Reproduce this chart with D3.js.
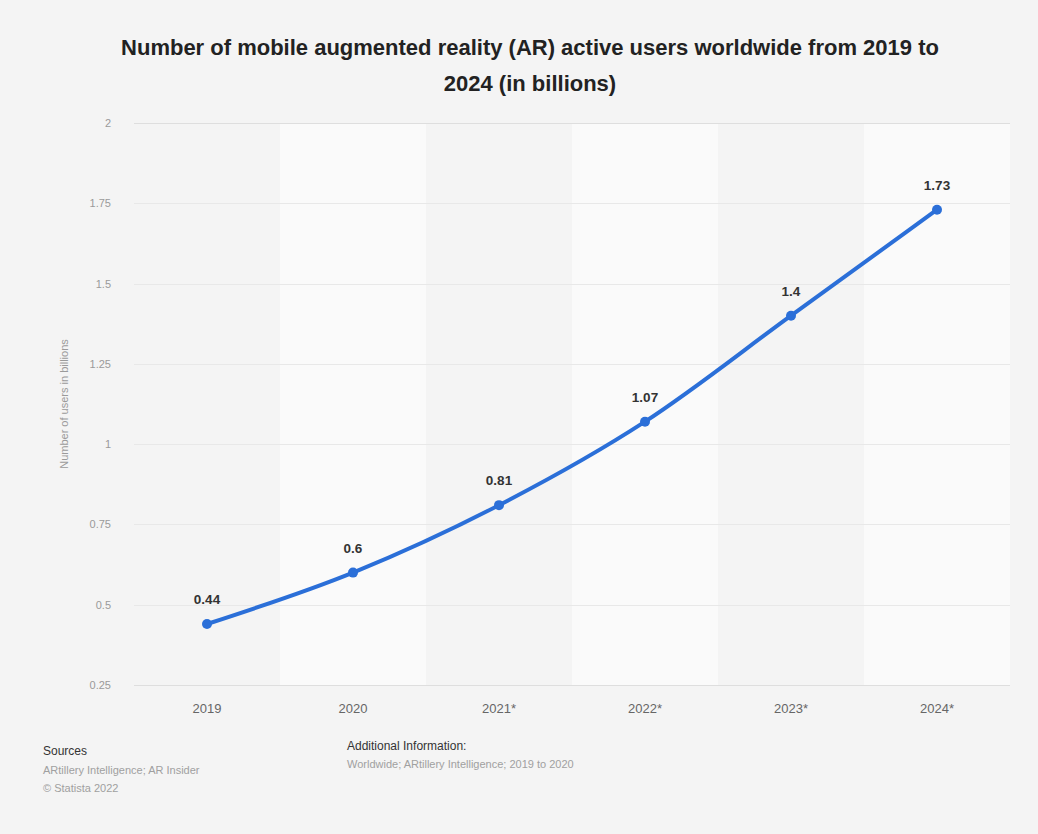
<!DOCTYPE html>
<html>
<head>
<meta charset="utf-8">
<script src="https://cdn.jsdelivr.net/npm/d3@7"></script>
<style>
  html, body { margin: 0; padding: 0; background: #f4f4f4; }
  svg { display: block; font-family: "Liberation Sans", Arial, sans-serif; }
</style>
</head>
<body>
<svg id="chart"></svg>
<script>
// chart data
const years = ['2019', '2020', '2021*', '2022*', '2023*', '2024*'];
const users = [0.44, 0.6, 0.81, 1.07, 1.4, 1.73];
const yTicks = [0.25, 0.5, 0.75, 1, 1.25, 1.5, 1.75, 2];
const yTickLabels = ['0.25', '0.5', '0.75', '1', '1.25', '1.5', '1.75', '2'];

const W = 1038, H = 834;
const svg = d3.select('#chart').attr('width', W).attr('height', H);

svg.append('rect').attr('width', W).attr('height', H).attr('fill', '#f4f4f4');

// plot box
const plotL = 134, plotR = 1010, plotT = 123, plotB = 685;

const x = d3.scaleBand().domain(years).range([plotL, plotR]);
const y = d3.scaleLinear().domain([0.25, 2]).range([plotB, plotT]);

// alternating column bands
svg.append('g').selectAll('rect')
    .data(years.filter((d, i) => i % 2 === 1))
    .join('rect')
    .attr('x', d => x(d))
    .attr('y', plotT)
    .attr('width', x.bandwidth())
    .attr('height', plotB - plotT)
    .attr('fill', '#fafafa');

// grid lines
svg.append('g').selectAll('line')
    .data(yTicks)
    .join('line')
    .attr('x1', plotL).attr('x2', plotR)
    .attr('y1', d => Math.round(y(d)) + 0.5)
    .attr('y2', d => Math.round(y(d)) + 0.5)
    .attr('stroke', (d, i) => (i === 0 || i === yTicks.length - 1) ? '#dedede' : '#e8e8e8')
    .attr('stroke-width', 1);

// y axis labels
const yAxis = d3.axisLeft(y).tickValues(yTicks)
    .tickFormat((d, i) => yTickLabels[i]).tickSize(0).tickPadding(0);
const gy = svg.append('g').attr('transform', 'translate(111,0)').call(yAxis);
gy.select('.domain').remove();
gy.selectAll('text').attr('fill', '#9a9a9a').style('font-size', '11px')
    .style('font-family', '"Liberation Sans", Arial, sans-serif');

// x axis labels
const xAxis = d3.axisBottom(x).tickSize(0).tickPadding(0);
const gx = svg.append('g').attr('transform', 'translate(0,704)').call(xAxis);
gx.select('.domain').remove();
gx.selectAll('text').attr('fill', '#666').style('font-size', '13px')
    .style('font-family', '"Liberation Sans", Arial, sans-serif');

// y axis title
svg.append('text')
    .attr('transform', 'translate(68,404) rotate(-90)')
    .attr('text-anchor', 'middle')
    .attr('fill', '#9a9a9a')
    .style('font-size', '11px')
    .text('Number of users in billions');

// the line
const line = d3.line()
    .x((d, i) => x(years[i]) + x.bandwidth() / 2)
    .y(d => y(d))
    .curve(d3.curveMonotoneX);

svg.append('path')
    .datum(users)
    .attr('d', line)
    .attr('fill', 'none')
    .attr('stroke', '#2b6fd8')
    .attr('stroke-width', 4)
    .attr('stroke-linejoin', 'round');

svg.append('g').selectAll('circle')
    .data(users)
    .join('circle')
    .attr('cx', (d, i) => x(years[i]) + x.bandwidth() / 2)
    .attr('cy', d => y(d))
    .attr('r', 5)
    .attr('fill', '#2b6fd8');

// value labels
svg.append('g').selectAll('text')
    .data(users)
    .join('text')
    .attr('x', (d, i) => x(years[i]) + x.bandwidth() / 2)
    .attr('y', d => y(d) - 20)
    .attr('text-anchor', 'middle')
    .attr('fill', '#333')
    .style('font-size', '13.5px')
    .style('font-weight', 'bold')
    .text(d => String(d));

// title
const title = svg.append('text')
    .attr('text-anchor', 'middle')
    .attr('fill', '#222')
    .style('font-size', '22px')
    .style('font-weight', 'bold');
title.append('tspan').attr('x', 530).attr('y', 55)
    .text('Number of mobile augmented reality (AR) active users worldwide from 2019 to');
title.append('tspan').attr('x', 530).attr('y', 91)
    .text('2024 (in billions)');

// footer
svg.append('text').attr('x', 43).attr('y', 755).attr('fill', '#333')
    .style('font-size', '12px').text('Sources');
svg.append('text').attr('x', 43).attr('y', 774).attr('fill', '#a0a0a0')
    .style('font-size', '11px').text('ARtillery Intelligence; AR Insider');
svg.append('text').attr('x', 43).attr('y', 792).attr('fill', '#a0a0a0')
    .style('font-size', '11px').text('© Statista 2022');
svg.append('text').attr('x', 347).attr('y', 750).attr('fill', '#333')
    .style('font-size', '12px').text('Additional Information:');
svg.append('text').attr('x', 347).attr('y', 768).attr('fill', '#a0a0a0')
    .style('font-size', '11px').text('Worldwide; ARtillery Intelligence; 2019 to 2020');
</script>
</body>
</html>
